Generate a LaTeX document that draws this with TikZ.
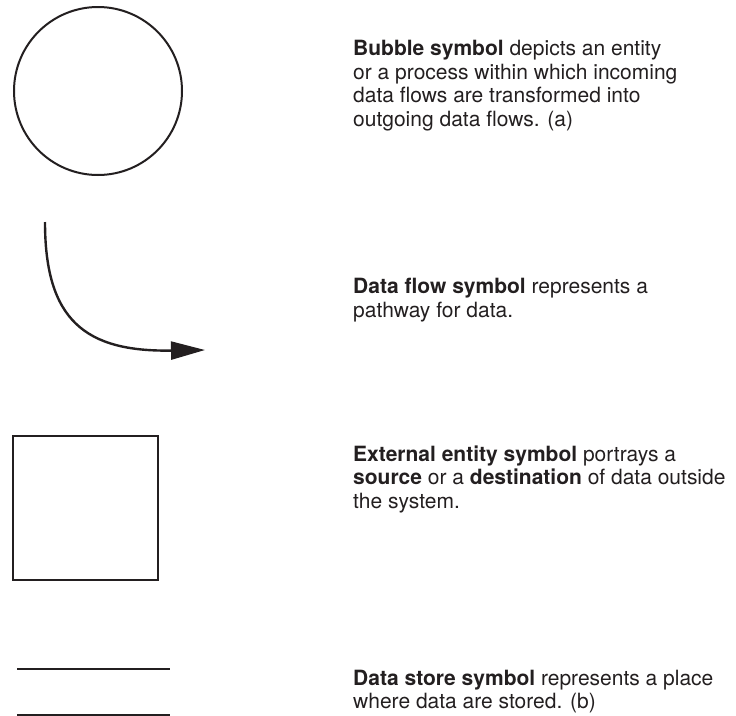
\documentclass[tikz,border=0pt]{standalone}
\usepackage{fontspec}
\setmainfont{TeX Gyre Heros}
\usetikzlibrary{arrows.meta}
\definecolor{ink}{HTML}{231F20}
\begin{document}
\begin{tikzpicture}[x=1pt,y=-1pt,
  sym/.style={draw=ink,line width=2.4pt,inner sep=0pt},
  desc/.style={anchor=base west,align=left,inner sep=0pt,text=ink,
    font=\fontsize{21}{23.5}\selectfont}]
  \useasboundingbox (0,0) rectangle (736,715);
  % bubble
  \node[sym,circle,minimum size=168pt,line width=2pt] (bubble) at (98,91) {};
  % data flow
  \coordinate (flowA) at (45,222);
  \coordinate (flowB) at (205,350);
  \draw[draw=ink,line width=2.4pt,-{Triangle[length=34pt,width=18pt]}]
    (flowA) .. controls (45,320) and (85,352) .. (flowB);
  % external entity
  \node[sym,rectangle,minimum width=145pt,minimum height=144pt] (entity) at (85.5,508) {};
  % data store
  \coordinate (st1) at (17,669); \coordinate (st2) at (170,669);
  \coordinate (sb1) at (17,715); \coordinate (sb2) at (170,715);
  \draw[draw=ink,line width=2.4pt] (st1) -- (st2);
  \draw[draw=ink,line width=2.4pt] (sb1) -- (sb2);
  % descriptions (anchored at the baseline of the last line)
  \node[desc] (t1) at (353,126.2) {\textbf{Bubble symbol} depicts an entity\\or a process within which incoming\\data flows are transformed into\\outgoing data flows. (a)};
  \node[desc] (t2) at (353,317) {\textbf{Data flow symbol} represents a\\pathway for data.};
  \node[desc] (t3) at (353,508) {\textbf{External entity symbol} portrays a\\\textbf{source} or a \textbf{destination} of data outside\\the system.};
  \node[desc] (t4) at (353,708.5) {\textbf{Data store symbol} represents a place\\where data are stored. (b)};
\end{tikzpicture}
\end{document}
